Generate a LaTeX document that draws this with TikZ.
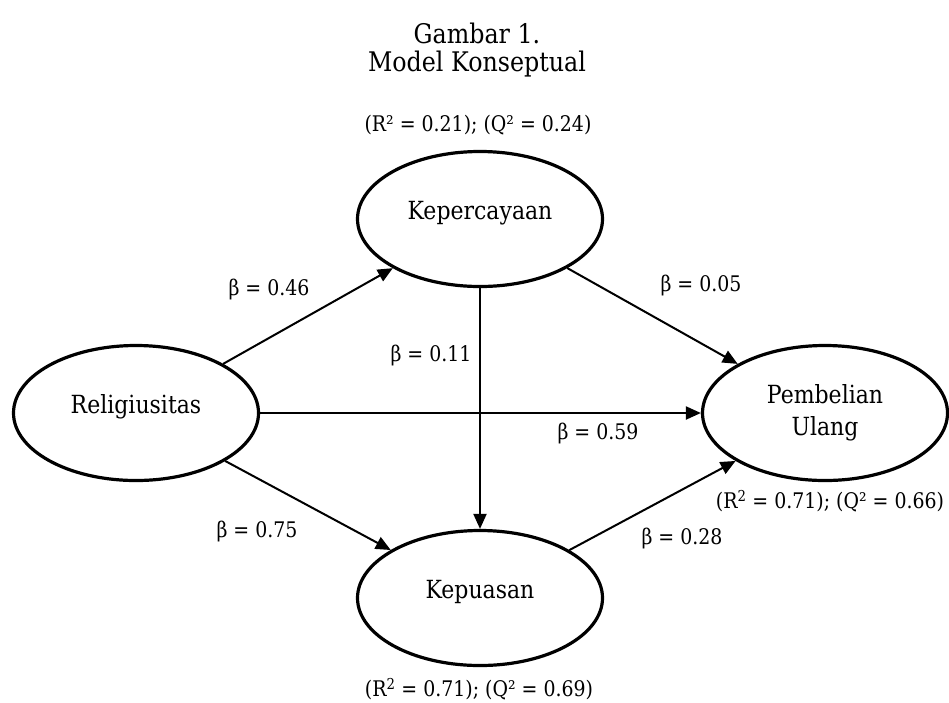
\documentclass[tikz,border=0pt]{standalone}
\usepackage{fontspec}
\setmainfont[FakeStretch=0.88]{DejaVu Serif}
\usetikzlibrary{shapes.geometric,arrows.meta}
\tikzset{
  latent/.style={draw, ellipse, line width=3.2pt, inner sep=0pt,
    minimum width=245pt, minimum height=135pt,
    font=\fontsize{25}{29}\selectfont, text height=18pt, text depth=18pt},
  latenttwo/.style={draw, ellipse, line width=3.2pt, inner sep=0pt,
    minimum width=245pt, minimum height=135pt,
    font=\fontsize{25}{32}\selectfont, align=center},
  path/.style={-{Triangle[length=15pt,width=13pt]}, line width=2pt},
  coef/.style={font=\fontsize{21.5}{24}\selectfont, inner sep=0pt},
  ttl/.style={font=\fontsize{27}{31}\selectfont, inner sep=0pt}
}
\begin{document}
\begin{tikzpicture}[x=1pt,y=-1pt]
\useasboundingbox[fill=white] (0,0) rectangle (949,702);
\node[ttl] (t1) at (477,33) {Gambar 1.};
\node[ttl] (t2) at (477,64) {Model Konseptual};

\node[latent] (kep) at (480,219) {Kepercayaan};
\node[latent] (rel) at (136,413) {Religiusitas};
\node[latenttwo] (pu) at (825,413) {Pembelian\\Ulang};
\node[latent] (kps) at (480,598) {Kepuasan};

\draw[path] (rel) -- (kep);
\draw[path] (kep) -- (pu);
\draw[path] (rel) -- (pu);
\draw[path] (kep) -- (kps);
\draw[path] (rel) -- (kps);
\draw[path] (kps) -- (pu);

\node[coef] (r2a) at (478,125) {(R² = 0.21); (Q² = 0.24)};
\node[coef] (r2b) at (830,501) {(R\textsuperscript{2} = 0.71); (Q² = 0.66)};
\node[coef] (r2c) at (479,689) {(R\textsuperscript{2} = 0.71); (Q² = 0.69)};

\node[coef] (b1) at (269,290) {β = 0.46};
\node[coef] (b2) at (701,286) {β = 0.05};
\node[coef] (b3) at (431,356) {β = 0.11};
\node[coef] (b4) at (598,434) {β = 0.59};
\node[coef] (b5) at (257,531) {β = 0.75};
\node[coef] (b6) at (682,538) {β = 0.28};
\end{tikzpicture}
\end{document}
